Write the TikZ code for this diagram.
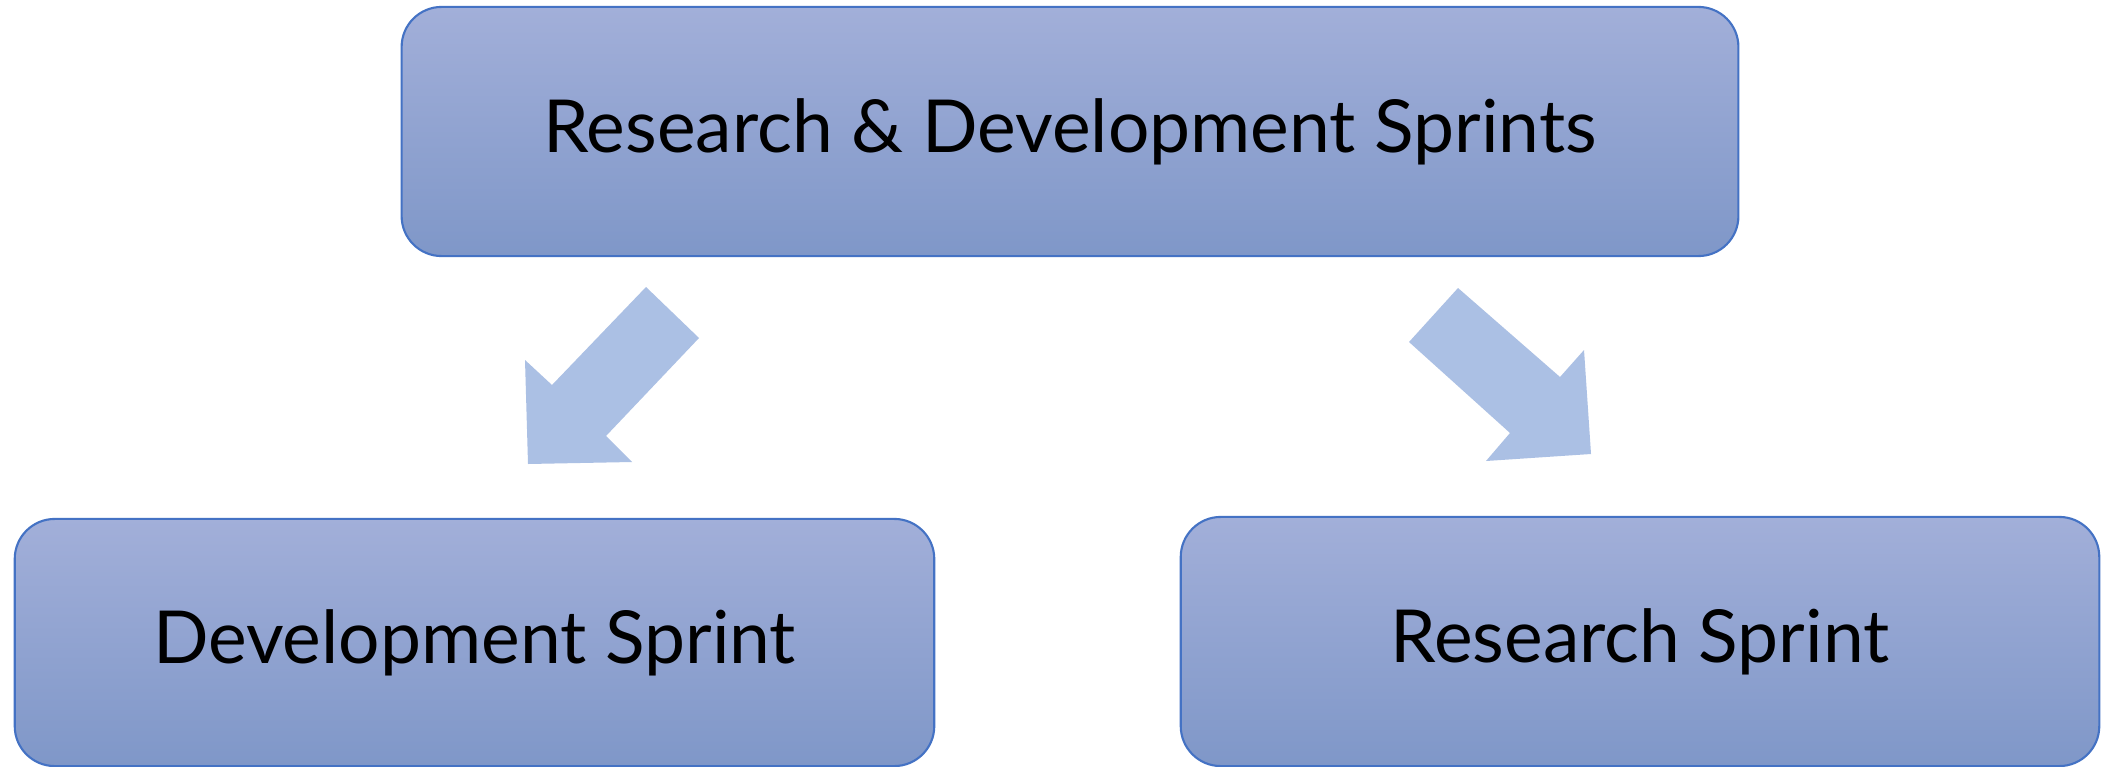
\documentclass[tikz,border=0pt]{standalone}
\usepackage{fontspec}
\setmainfont{Lato}
\definecolor{boxtop}{HTML}{A2AFD9}
\definecolor{boxbottom}{HTML}{7F97C8}
\definecolor{boxline}{HTML}{4472C4}
\definecolor{arrowfill}{HTML}{ABC0E4}
\tikzset{
  sprintbox/.style={draw=boxline, line width=0.6pt, rounded corners=0.4cm,
    top color=boxtop, bottom color=boxbottom, text=black,
    font=\fontsize{20.8}{25}\selectfont},
  blockarrow/.style={fill=arrowfill, draw=none}
}
\begin{document}
\begin{tikzpicture}[x=0.01cm, y=-0.01cm]
            \fill [white] (0, 0) rectangle (2113, 767);
            \useasboundingbox (0, 0) rectangle (2113, 767);

            % boxes
            \node [sprintbox, minimum width=13.36cm, minimum height=2.49cm] (rd) at (1070, 131.5) {Research \& Development Sprints};
            \node [sprintbox, minimum width=9.19cm, minimum height=2.47cm] (dev) at (474.5, 642.5) {Development Sprint};
            \node [sprintbox, minimum width=9.18cm, minimum height=2.49cm] (res) at (1640, 641.5) {Research Sprint};

            % arrows
            \draw [blockarrow] (646, 287) -- (699, 338) -- (606, 436) -- (632, 462)
              -- (528, 464) -- (525, 360) -- (552, 385) -- cycle;
            \draw [blockarrow] (1458, 288) -- (1409, 342) -- (1510, 433) -- (1486, 461)
              -- (1591, 454) -- (1584, 350) -- (1560, 377) -- cycle;
        \end{tikzpicture}
\end{document}
